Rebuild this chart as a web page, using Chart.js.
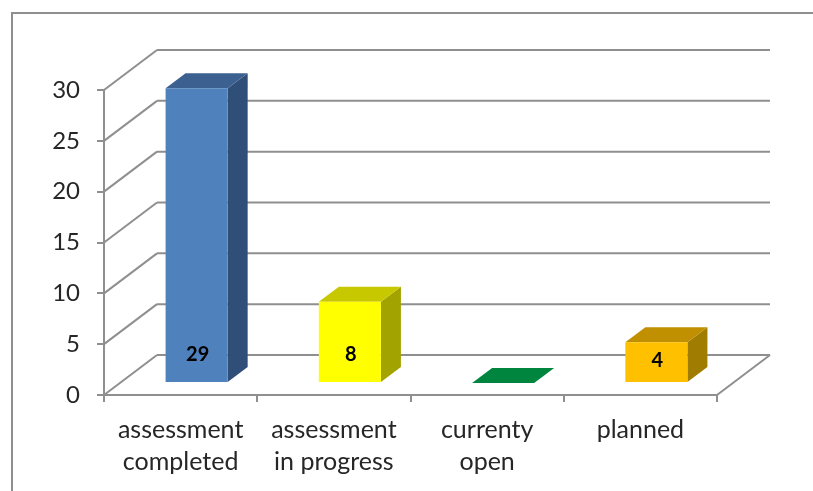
<!DOCTYPE html>
<html>
<head>
<meta charset="utf-8">
<script src="https://cdn.jsdelivr.net/npm/chart.js@4"></script>
<style>
  html, body { margin: 0; padding: 0; background: #fff; }
  canvas { display: block; }
</style>
</head>
<body>
<canvas id="chart" width="813" height="491"></canvas>
<script>
const categories = [['assessment', 'completed'], ['assessment', 'in progress'], ['currenty', 'open'], ['planned']];
const counts = [29, 8, 0, 4];
const frontColors = ['#4f81bd', '#ffff00', '#00853e', '#ffc000'];
const topColors = ['#3c6090', '#c8c800', '#00853e', '#c09000'];
const sideColors = ['#2f4f78', '#a3a300', '#006830', '#a07c00'];

const lineColor = '#8f8f8f';
const textColor = '#262626';
const wall = {dx: 53, dy: -40};   // how far the back wall sits behind the axes
const barShift = {dx: 16, dy: -12};
const barDepth = {dx: 20, dy: -15};

function line(ctx, x1, y1, x2, y2) {
  ctx.beginPath();
  ctx.moveTo(x1, y1);
  ctx.lineTo(x2, y2);
  ctx.stroke();
}

function poly(ctx, color, pts) {
  ctx.fillStyle = color;
  ctx.beginPath();
  pts.forEach((p, i) => i ? ctx.lineTo(p[0], p[1]) : ctx.moveTo(p[0], p[1]));
  ctx.closePath();
  ctx.fill();
}

const box3d = {
  id: 'box3d',
  beforeDraw(chart) {
    const ctx = chart.ctx;
    ctx.save();
    ctx.strokeStyle = lineColor;
    ctx.lineWidth = 2;
    // outer frame, only left and top show in the picture
    ctx.beginPath();
    ctx.moveTo(12, 491);
    ctx.lineTo(12, 13);
    ctx.lineTo(813, 13);
    ctx.stroke();
    ctx.restore();
  },
  beforeDatasetsDraw(chart) {
    const ctx = chart.ctx;
    const {left, right} = chart.chartArea;
    const y = chart.scales.y;
    ctx.save();
    ctx.strokeStyle = lineColor;
    ctx.lineWidth = 2;
    y.ticks.forEach(t => {
      const py = y.getPixelForValue(t.value);
      line(ctx, left, py, left + wall.dx, py + wall.dy);
      line(ctx, left + wall.dx, py + wall.dy, right + wall.dx, py + wall.dy);
    });
    const y0 = y.getPixelForValue(0);
    line(ctx, right, y0, right + wall.dx, y0 + wall.dy);
    ctx.restore();
  },
  beforeDatasetDraw(chart, args) {
    const ctx = chart.ctx;
    ctx.save();
    ctx.translate(barShift.dx, barShift.dy);
    args.meta.data.forEach((bar, i) => {
      const {x, y, base, width} = bar.getProps(['x', 'y', 'base', 'width'], true);
      const l = x - width / 2, r = x + width / 2;
      const d = barDepth;
      if (base - y > 0) {
        poly(ctx, sideColors[i], [[r, y], [r + d.dx, y + d.dy], [r + d.dx, base + d.dy], [r, base]]);
      }
      poly(ctx, topColors[i], [[l, y], [l + d.dx, y + d.dy], [r + d.dx, y + d.dy], [r, y]]);
    });
  },
  afterDatasetDraw(chart) {
    chart.ctx.restore();
  },
  afterDatasetsDraw(chart) {
    const ctx = chart.ctx;
    ctx.save();
    ctx.fillStyle = '#000';
    ctx.font = 'bold 20px Lato';
    ctx.textAlign = 'center';
    ctx.textBaseline = 'middle';
    chart.getDatasetMeta(0).data.forEach((bar, i) => {
      if (!counts[i]) return;
      const {x, y, base} = bar.getProps(['x', 'y', 'base'], true);
      const mid = (y + base) / 2;
      ctx.fillText(counts[i], x + barShift.dx + 1, Math.max(base - 27, mid - 2) + barShift.dy);
    });
    ctx.restore();
  }
};

new Chart(document.getElementById('chart'), {
  type: 'bar',
  data: {
    labels: categories,
    datasets: [{
      data: counts,
      backgroundColor: frontColors,
      borderWidth: 0,
      barPercentage: 0.405,
      categoryPercentage: 1,
      clip: false
    }]
  },
  plugins: [box3d],
  options: {
    responsive: false,
    animation: false,
    layout: {padding: {top: 90, right: 96, left: 0, bottom: 0}},
    plugins: {legend: {display: false}, tooltip: {enabled: false}},
    scales: {
      x: {
        afterFit(s) { s.height = 96; },
        border: {color: lineColor, width: 2},
        grid: {drawOnChartArea: false, drawTicks: true, tickLength: 7, color: lineColor, lineWidth: 2, offset: true},
        ticks: {color: textColor, font: {family: 'Lato', size: 25, lineHeight: 1.28}, padding: 12, maxRotation: 0, autoSkip: false}
      },
      y: {
        min: 0,
        max: 30,
        afterFit(s) { s.width = 104; },
        border: {color: lineColor, width: 2},
        grid: {drawOnChartArea: false, drawTicks: true, tickLength: 7, color: lineColor, lineWidth: 2},
        ticks: {stepSize: 5, color: textColor, font: {family: 'Lato', size: 24}, padding: 17}
      }
    }
  }
});
</script>
</body>
</html>
